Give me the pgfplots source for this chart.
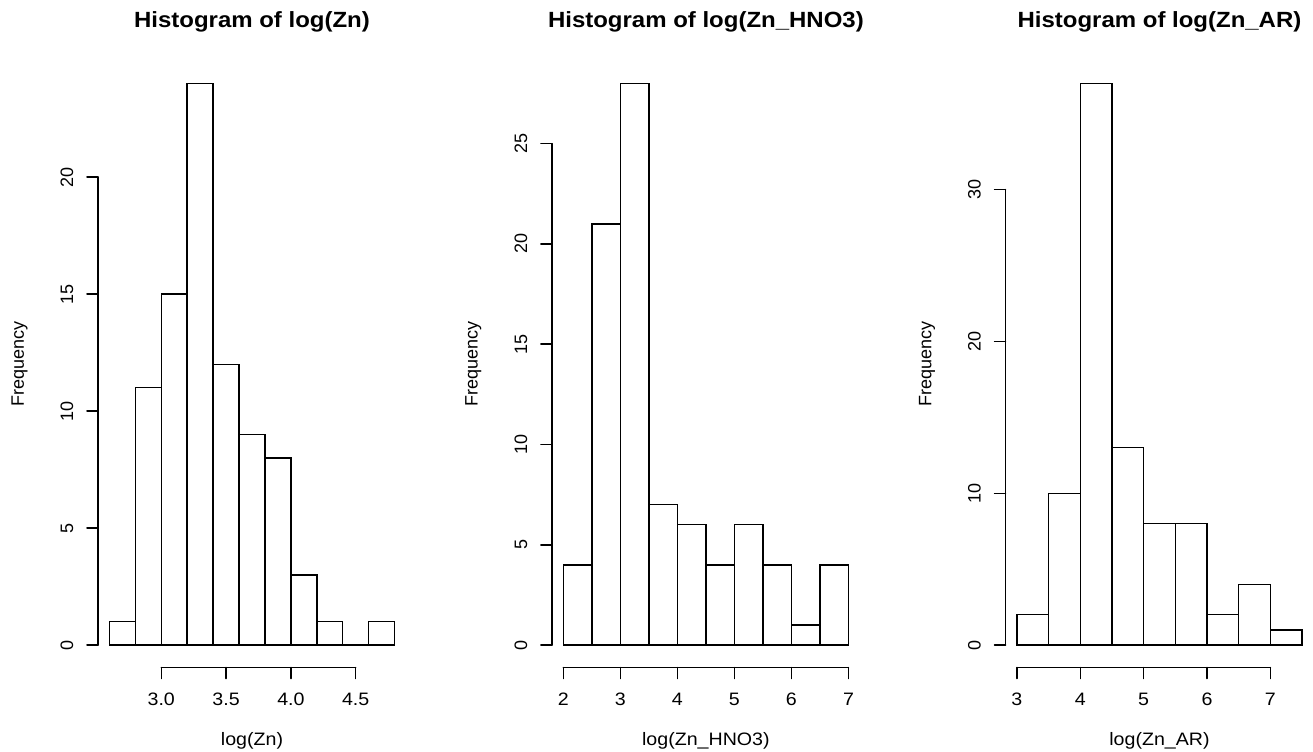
\documentclass[border=0pt]{standalone}
\usepackage{fontspec}
\setmainfont[FakeStretch=1.09]{Liberation Sans}
\newfontfamily\rfont{Liberation Sans}
\usepackage{pgfplots}
\pgfplotsset{compat=1.18}

\pgfplotsset{rhist/.style={
  scale only axis, width=154pt, height=303.25pt,
  anchor=south west,
  axis lines*=left, axis line style={draw=none},
  tick align=outside, major tick length=5.5pt,
  tick style={black, line width=0.75pt, line cap=round},
  /pgf/number format/assume math mode=true,
  every axis title shift=0pt,
  xticklabel style={font=\fontsize{9}{10}\selectfont, anchor=center, yshift=-10.5pt},
  yticklabel style={font=\rfont\fontsize{9}{10}\selectfont, xshift=-10pt, rotate=90, anchor=center},
  title style={at={(axis description cs:0.5,1.0643)}, anchor=center, font=\bfseries\fontsize{11}{13}\selectfont},
  xlabel style={at={(axis description cs:0.5,-0.1204)}, anchor=center, font=\fontsize{9}{10}\selectfont},
  ylabel style={at={(axis description cs:-0.255,0.5)}, anchor=center, font=\rfont\fontsize{9}{10}\selectfont},
  ylabel={Frequency},
  clip=false,
}}
\tikzset{rline/.style={black, line width=0.75pt, line cap=round}}

\begin{document}
\begin{tikzpicture}
\useasboundingbox (0,0) rectangle (656.5pt,375.5pt);

% Panel 1
\begin{axis}[rhist, at={(49pt,41.75pt)},
  xmin=2.512, xmax=4.888, ymin=-0.96, ymax=24.96,
  xtick={3,3.5,4,4.5}, xticklabels={3.0,3.5,4.0,4.5},
  ytick={0,5,10,15,20}, yticklabels={0,5,10,15,20},
  title={Histogram of log(Zn)}, xlabel={log(Zn)}]
\addplot[ybar interval, fill=white, draw=black, line width=0.75pt] coordinates {
 (2.6,1) (2.8,11) (3.0,15) (3.2,24) (3.4,12) (3.6,9) (3.8,8) (4.0,3) (4.2,1) (4.4,0) (4.6,1) (4.8,1)};
\draw[rline] (axis cs:3,-0.96) -- (axis cs:4.5,-0.96);
\draw[rline] (axis cs:2.512,0) -- (axis cs:2.512,20);
\end{axis}

% Panel 2
\begin{axis}[rhist, at={(275.95pt,41.75pt)},
  xmin=1.8, xmax=7.2, ymin=-1.12, ymax=29.12,
  xtick={2,3,4,5,6,7}, xticklabels={2,3,4,5,6,7},
  ytick={0,5,10,15,20,25}, yticklabels={0,5,10,15,20,25},
  title={Histogram of log(Zn\_HNO3)}, xlabel={log(Zn\_HNO3)}]
\addplot[ybar interval, fill=white, draw=black, line width=0.75pt] coordinates {
 (2.0,4) (2.5,21) (3.0,28) (3.5,7) (4.0,6) (4.5,4) (5.0,6) (5.5,4) (6.0,1) (6.5,4) (7.0,4)};
\draw[rline] (axis cs:2,-1.12) -- (axis cs:7,-1.12);
\draw[rline] (axis cs:1.8,0) -- (axis cs:1.8,25);
\end{axis}

% Panel 3
\begin{axis}[rhist, at={(502.75pt,41.75pt)},
  xmin=2.82, xmax=7.68, ymin=-1.48, ymax=38.48,
  xtick={3,4,5,6,7}, xticklabels={3,4,5,6,7},
  ytick={0,10,20,30}, yticklabels={0,10,20,30},
  title={Histogram of log(Zn\_AR)}, xlabel={log(Zn\_AR)}]
\addplot[ybar interval, fill=white, draw=black, line width=0.75pt] coordinates {
 (3.0,2) (3.5,10) (4.0,37) (4.5,13) (5.0,8) (5.5,8) (6.0,2) (6.5,4) (7.0,1) (7.5,1)};
\draw[rline] (axis cs:3,-1.48) -- (axis cs:7,-1.48);
\draw[rline] (axis cs:2.82,0) -- (axis cs:2.82,30);
\end{axis}
\end{tikzpicture}
\end{document}
